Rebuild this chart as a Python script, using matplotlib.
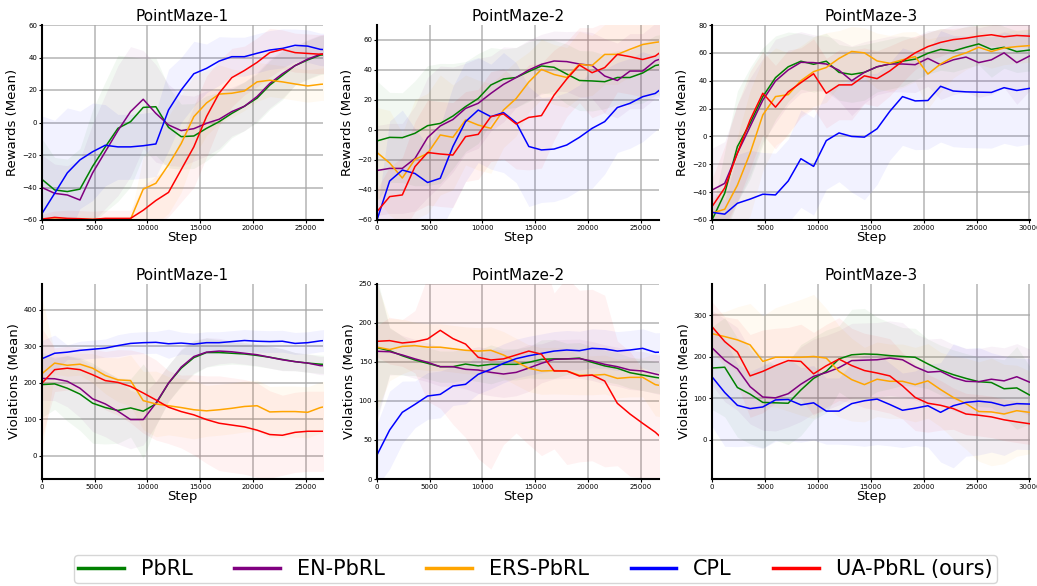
import numpy as np
import matplotlib
matplotlib.use("Agg")
import matplotlib.pyplot as plt
from matplotlib.lines import Line2D

# ---------------- data ----------------
methods = ["PbRL", "EN-PbRL", "ERS-PbRL", "CPL", "UA-PbRL (ours)"]
colors = ["green", "purple", "orange", "blue", "red"]
titles = ["PointMaze-1", "PointMaze-2", "PointMaze-3"]

steps_a = np.arange(0, 27601, 1200)   # PointMaze-1 / -2 (24 evals)
steps_b = np.arange(0, 30001, 1200)   # PointMaze-3 (26 evals)

# Rewards, PointMaze-1
r1_pbrl = [-35, -41.5, -42.5, -41, -27, -15, -3.6, 0.5, 9.3, 9.7, -3, -8.7, -8.3, -3.6, 0.5, 5.6, 10, 15, 23, 29, 35, 38.5, 41.5, 42]
r1_en = [-40, -43.6, -44.6, -47.7, -31, -18, -5, 6.7, 14.3, 5.6, -1.5, -5, -3.8, -0.5, 2, 6.7, 10, 16, 24, 30, 35, 39, 42, 43]
r1_ers = [-59.5, -59.5, -59.6, -59.6, -59.7, -59.6, -59.5, -59.5, -41, -37.4, -26, -13, 3.6, 12, 17.5, 18, 19.4, 25, 26, 25, 23.7, 22.5, 23.5, 24]
r1_cpl = [-56, -43.6, -31, -23, -18, -14, -15, -15, -14.3, -13.2, 7.7, 20, 30, 33.3, 37.8, 40.5, 40.5, 42.6, 44.6, 45.6, 47.5, 47, 45, 44.6]
r1_ua = [-59.4, -58.4, -59, -59.2, -59.6, -59, -59, -59, -54, -48, -43, -29, -15, 3.6, 18, 27.6, 32, 37, 43, 45, 43, 42.5, 42, 42.5]
r1_pbrl_sd = [25, 20, 20, 25, 35, 40, 45, 40, 30, 30, 25, 20, 20, 20, 18, 15, 15, 15, 15, 15, 12, 12, 12, 12]
r1_en_sd = [20, 18, 18, 25, 30, 35, 40, 40, 30, 30, 25, 22, 20, 20, 18, 15, 15, 15, 15, 15, 12, 12, 12, 12]
r1_ers_sd = [2, 2, 2, 2, 2, 2, 2, 2, 20, 25, 30, 30, 25, 20, 18, 15, 12, 12, 10, 10, 10, 10, 10, 10]
r1_cpl_sd = [60, 45, 40, 30, 30, 25, 20, 20, 20, 20, 25, 20, 20, 15, 15, 12, 12, 12, 12, 12, 10, 10, 10, 10]
r1_ua_sd = [3, 4, 5, 5, 5, 5, 5, 5, 15, 15, 15, 20, 25, 25, 20, 18, 15, 15, 15, 12, 12, 12, 12, 12]

# Rewards, PointMaze-2
r2_pbrl = [-7.3, -4.9, -5.1, -2.2, 2.9, 4.4, 9.3, 15.6, 21, 30, 34, 35, 39, 42.7, 41.8, 37.3, 33, 32.7, 32.2, 35, 35, 38, 43, 44.4]
r2_en = [-27, -25.6, -25.6, -19, -5, 2.7, 7, 14.4, 17.8, 24.4, 30.4, 35, 40, 43.8, 46, 45.6, 44, 43, 36, 33, 39.3, 39.3, 46.2, 49]
r2_ers = [-15, -22, -32, -19.6, -15.6, -3.3, -4.9, 6.7, 3.3, 1.1, 13.3, 21, 32, 40.4, 37, 35, 43.8, 43, 50.4, 50.4, 53.8, 57, 58.4, 59.5]
r2_cpl = [-60, -34, -26.7, -29, -35, -32.2, -11, 5.6, 13.3, 8.9, 11.6, 4.9, -11, -13.3, -12.7, -10, -4.9, 1.1, 5.6, 15, 17.8, 22.2, 24.4, 31]
r2_ua = [-54.4, -44.4, -43.3, -24.4, -15, -16, -16.7, -4.4, -2.9, 8.9, 10.7, 4, 8.4, 9.6, 23.3, 34, 43.3, 38.2, 41.6, 50.4, 48.9, 47, 49.3, 55.6]
r2_pbrl_sd = [40, 30, 30, 35, 40, 40, 35, 30, 30, 25, 20, 20, 20, 18, 18, 20, 20, 20, 18, 18, 18, 20, 20, 20]
r2_en_sd = [30, 30, 30, 35, 40, 40, 35, 30, 30, 25, 25, 20, 20, 20, 20, 20, 22, 22, 25, 25, 25, 25, 25, 25]
r2_ers_sd = [30, 35, 30, 40, 40, 40, 35, 30, 30, 30, 25, 25, 20, 20, 20, 20, 22, 20, 20, 20, 18, 18, 18, 18]
r2_cpl_sd = [5, 40, 40, 30, 25, 35, 40, 40, 35, 35, 40, 40, 40, 35, 35, 35, 35, 40, 35, 30, 30, 30, 25, 25]
r2_ua_sd = [15, 20, 25, 30, 35, 35, 35, 30, 30, 30, 30, 30, 35, 35, 30, 25, 25, 30, 30, 25, 25, 25, 25, 25]

# Rewards, PointMaze-3
r3_pbrl = [-60, -40.8, -7.3, 9.4, 28.6, 42.2, 50, 54, 51.8, 54, 46, 44.5, 46, 50, 52, 54, 55.5, 59.7, 62.5, 61.3, 64, 66.4, 62.5, 64, 60.9, 62]
r3_en = [-38.5, -33.7, -12, 7, 26, 39.8, 47.7, 53.2, 53, 52, 47.5, 40, 46, 50, 52, 52, 51.5, 56, 51.5, 55, 57, 53, 55, 60, 53, 57.7]
r3_ers = [-55, -52.3, -35, -12, 15.4, 28.6, 30, 40, 46.5, 49.5, 56, 61, 60, 54.2, 52.5, 55, 57.3, 44.8, 52, 57, 60, 64, 61, 63.5, 64.5, 65.2]
r3_cpl = [-54.5, -55.8, -48, -45, -41.5, -42, -32, -16, -21.5, -3, 2.5, 0, -0.5, 5.5, 18, 28.6, 25.5, 25.8, 36, 32.6, 32, 31.8, 31.6, 35, 33, 34.5]
r3_ua = [-50.4, -37, -12, 11.8, 31, 21, 32, 38.6, 45, 31, 37, 37, 43.5, 41.5, 47, 54, 60, 64.5, 67.5, 69.5, 70.5, 72, 73, 71.5, 72.5, 72]
r3_pbrl_sd = [5, 30, 40, 40, 35, 30, 25, 20, 20, 20, 20, 20, 20, 18, 18, 18, 15, 15, 15, 15, 15, 15, 20, 15, 15, 15]
r3_en_sd = [30, 30, 35, 35, 30, 30, 25, 22, 20, 20, 22, 25, 22, 20, 20, 20, 20, 20, 25, 25, 25, 25, 25, 25, 30, 25]
r3_ers_sd = [10, 15, 35, 45, 40, 35, 30, 25, 25, 25, 20, 18, 18, 20, 20, 20, 18, 25, 20, 15, 12, 12, 12, 12, 12, 12]
r3_cpl_sd = [15, 10, 35, 35, 30, 30, 30, 35, 35, 35, 35, 40, 45, 40, 35, 35, 35, 35, 40, 40, 40, 40, 40, 40, 40, 40]
r3_ua_sd = [20, 30, 35, 35, 30, 30, 30, 25, 25, 25, 25, 25, 20, 20, 18, 15, 12, 10, 10, 8, 8, 8, 8, 8, 8, 8]

# Violations, PointMaze-1
v1_pbrl = [195, 197, 185, 169, 144, 132, 124, 131, 122, 142, 199, 240, 269, 283, 283, 281, 279, 275, 270, 264, 258, 254, 251, 249]
v1_en = [212, 211, 204, 185, 156, 142, 122, 99, 99, 144, 199, 243, 272, 284, 287, 285, 281, 277, 270, 263, 258, 254, 247, 247]
v1_ers = [225, 254, 248, 251, 240, 220, 208, 206, 151, 142, 137, 132, 126, 123, 126, 130, 135, 137, 120, 121, 121, 119, 132, 139]
v1_cpl = [266, 281, 284, 289, 292, 295, 302, 308, 310, 311, 307, 309, 306, 310, 310, 313, 316, 314, 313, 314, 308, 310, 315, 318]
v1_ua = [199, 236, 240, 236, 222, 206, 201, 190, 172, 153, 133, 121, 112, 99, 89, 84, 79, 70, 58, 56, 64, 67, 67, 67]
v1_pbrl_sd = [90, 70, 90, 100, 110, 100, 90, 80, 130, 60, 50, 50, 45, 40, 35, 30, 30, 30, 30, 30, 25, 25, 25, 25]
v1_en_sd = [60, 60, 70, 80, 90, 90, 90, 80, 70, 60, 50, 50, 45, 40, 35, 30, 30, 30, 30, 30, 25, 25, 25, 25]
v1_ers_sd = [210, 30, 30, 30, 40, 50, 60, 70, 80, 90, 80, 80, 80, 70, 70, 70, 70, 70, 70, 70, 70, 70, 70, 70]
v1_cpl_sd = [50, 50, 20, 25, 25, 25, 30, 30, 30, 30, 40, 30, 30, 30, 30, 30, 30, 30, 30, 30, 30, 30, 30, 30]
v1_ua_sd = [150, 60, 60, 60, 70, 80, 90, 100, 110, 110, 100, 100, 110, 120, 130, 130, 130, 130, 120, 110, 110, 110, 110, 110]

# Violations, PointMaze-2
v2_pbrl = [168.4, 164.5, 158, 152.6, 148.3, 144, 144, 147.4, 145, 147, 147, 147, 149.6, 153.4, 154, 154, 155, 149.6, 145, 142, 136.3, 133.3, 130.3, 128]
v2_en = [163.7, 163.2, 159, 154, 149.6, 144, 144, 140.6, 139.7, 136.7, 134.6, 136.7, 142.3, 148.3, 153.4, 154, 154.3, 151.3, 147, 144, 139.7, 138.5, 134.6, 131]
v2_ers = [169, 166, 170, 171, 169, 169, 167, 165, 164, 165, 159, 150.4, 142, 138.5, 139, 138.5, 133, 133, 134, 129, 130.3, 130.3, 121, 118]
v2_cpl = [30.8, 62.8, 85.5, 95.7, 106.4, 108.5, 119.2, 121.4, 134.2, 140.6, 148.3, 154.3, 158, 161, 164, 165.4, 164.5, 167.5, 166.7, 164, 165.4, 167.5, 162.4, 163]
v2_ua = [176.5, 177.4, 174.4, 176, 179.5, 190.6, 180, 173, 156, 152.6, 154, 159, 164, 160, 138.5, 138.5, 132, 133.3, 125.6, 97, 83.3, 71.4, 60, 45]
v2_pbrl_sd = [90, 30, 25, 20, 20, 20, 20, 20, 20, 25, 20, 20, 20, 25, 25, 20, 20, 20, 20, 20, 20, 20, 20, 20]
v2_en_sd = [90, 30, 25, 25, 25, 25, 25, 25, 30, 30, 30, 30, 30, 25, 25, 25, 25, 25, 25, 25, 25, 25, 25, 25]
v2_ers_sd = [80, 40, 35, 30, 30, 30, 30, 30, 30, 30, 30, 30, 30, 30, 30, 30, 25, 25, 25, 25, 25, 25, 40, 40]
v2_cpl_sd = [40, 50, 40, 30, 30, 30, 25, 25, 25, 25, 25, 25, 25, 25, 25, 25, 25, 25, 25, 25, 25, 25, 25, 25]
v2_ua_sd = [20, 30, 30, 40, 80, 100, 110, 120, 130, 140, 110, 100, 120, 130, 100, 120, 110, 110, 110, 80, 80, 70, 70, 70]

# Violations, PointMaze-3
v3_pbrl = [173, 175, 126, 110, 90, 89, 88, 120, 148, 165, 195, 205, 207, 206, 203, 201, 199, 183, 168, 157, 148, 140, 138, 123, 125, 108]
v3_en = [222, 192, 171, 128, 103, 101, 111, 134, 153, 162, 174, 191, 192, 193, 197, 193, 176, 163, 165, 150, 141, 140, 146, 142, 152, 139]
v3_ers = [256, 249, 241, 229, 189, 199, 199, 199, 201, 197, 165, 145, 133, 146, 141, 141, 133, 142, 121, 102, 87, 68, 67, 62, 70, 66]
v3_cpl = [152, 114, 83, 75, 79, 96, 97, 84, 89, 69, 69, 87, 94, 98, 85, 71, 76, 82, 66, 82, 90, 93, 90, 82, 87, 86]
v3_ua = [273, 237, 211.5, 154, 165, 179, 191, 189, 159, 178.5, 194.6, 179, 167, 161, 154, 130, 102, 88, 83, 75, 62, 59, 55, 48, 43, 38.5]
v3_pbrl_sd = [100, 120, 120, 120, 110, 90, 100, 110, 100, 100, 80, 110, 110, 90, 80, 70, 70, 60, 60, 60, 60, 60, 60, 70, 100, 70]
v3_en_sd = [90, 100, 100, 90, 80, 80, 80, 90, 90, 90, 90, 90, 90, 90, 90, 90, 80, 80, 80, 80, 80, 80, 80, 80, 80, 80]
v3_ers_sd = [50, 60, 80, 100, 110, 120, 130, 140, 150, 120, 110, 100, 90, 90, 90, 90, 90, 90, 90, 100, 110, 120, 130, 120, 110, 100]
v3_cpl_sd = [120, 130, 100, 90, 100, 100, 100, 90, 90, 80, 80, 100, 110, 110, 100, 90, 90, 100, 120, 150, 130, 130, 120, 120, 110, 110]
v3_ua_sd = [60, 60, 80, 100, 100, 90, 80, 90, 100, 100, 100, 90, 90, 90, 90, 80, 80, 70, 60, 50, 50, 50, 50, 50, 50, 50]

rewards = [
    [r1_pbrl, r1_en, r1_ers, r1_cpl, r1_ua],
    [r2_pbrl, r2_en, r2_ers, r2_cpl, r2_ua],
    [r3_pbrl, r3_en, r3_ers, r3_cpl, r3_ua],
]
rewards_sd = [
    [r1_pbrl_sd, r1_en_sd, r1_ers_sd, r1_cpl_sd, r1_ua_sd],
    [r2_pbrl_sd, r2_en_sd, r2_ers_sd, r2_cpl_sd, r2_ua_sd],
    [r3_pbrl_sd, r3_en_sd, r3_ers_sd, r3_cpl_sd, r3_ua_sd],
]
violations = [
    [v1_pbrl, v1_en, v1_ers, v1_cpl, v1_ua],
    [v2_pbrl, v2_en, v2_ers, v2_cpl, v2_ua],
    [v3_pbrl, v3_en, v3_ers, v3_cpl, v3_ua],
]
violations_sd = [
    [v1_pbrl_sd, v1_en_sd, v1_ers_sd, v1_cpl_sd, v1_ua_sd],
    [v2_pbrl_sd, v2_en_sd, v2_ers_sd, v2_cpl_sd, v2_ua_sd],
    [v3_pbrl_sd, v3_en_sd, v3_ers_sd, v3_cpl_sd, v3_ua_sd],
]
steps = [steps_a, steps_a, steps_b]

# ---------------- layout ----------------
W, H = 1037, 586
fig = plt.figure(figsize=(W / 100, H / 100), dpi=100)

col_px = [(42, 323), (377, 659), (712, 1030)]
row_px = [(25, 220), (284, 479)]
xlims = [26650, 26750, 30050]
ylims_r = [(-60, 60), (-60, 70), (-60, 80)]
ylims_v = [(-64, 471), (0, 250), (-95, 376)]
yticks_r = [np.arange(-60, 61, 20), np.arange(-60, 61, 20), np.arange(-60, 81, 20)]
yticks_v = [np.arange(0, 401, 100), np.arange(0, 251, 50), np.arange(0, 301, 100)]


def style(ax, xmax, xt_max):
    for s in ["top", "right"]:
        ax.spines[s].set_visible(False)
    for s in ["left", "bottom"]:
        ax.spines[s].set_linewidth(1.5)
        ax.spines[s].set_color("black")
    ax.set_xlim(0, xmax)
    ax.set_xticks(np.arange(0, xt_max + 1, 5000))
    ax.tick_params(axis="both", labelsize=5, length=2, width=0.8, pad=1.5)
    ax.grid(True, color="#a8a8a8", linewidth=1.2, alpha=0.8)
    ax.set_axisbelow(True)
    ax.set_xlabel("Step", fontsize=9.5, labelpad=0)


for row in range(2):
    for col in range(3):
        l, r = col_px[col]
        t, b = row_px[row]
        ax = fig.add_axes([l / W, 1 - b / H, (r - l) / W, (b - t) / H])
        data = rewards[col] if row == 0 else violations[col]
        sds = rewards_sd[col] if row == 0 else violations_sd[col]
        x = steps[col]
        for m, c, d, sd in zip(methods, colors, data, sds):
            d = np.asarray(d, float)
            sd = np.asarray(sd, float)
            ax.fill_between(x, d - sd, d + sd, color=c, alpha=0.05, linewidth=0)
        for m, c, d in zip(methods, colors, data):
            ax.plot(x, d, color=c, linewidth=1.1, label=m)
        style(ax, xlims[col], 30000 if col == 2 else 25000)
        if row == 0:
            ax.set_ylim(*ylims_r[col])
            ax.set_yticks(yticks_r[col])
            ax.set_ylabel("Rewards (Mean)", fontsize=9.5, labelpad=2)
        else:
            ax.set_ylim(*ylims_v[col])
            ax.set_yticks(yticks_v[col])
            ax.set_ylabel("Violations (Mean)", fontsize=9.5, labelpad=2)
        ax.set_title(titles[col], fontsize=11, pad=3)

handles = [Line2D([0], [0], color=c, linewidth=2.5) for c in colors]
leg = fig.legend(handles, methods, loc="center", bbox_to_anchor=(535.5 / W, 1 - 569 / H),
                 ncol=5, frameon=True, fancybox=True, fontsize=15, handlelength=2.2,
                 columnspacing=2.0, handletextpad=0.8, borderpad=0.2)
leg.get_frame().set_edgecolor("#cccccc")
leg.get_frame().set_linewidth(1.0)

fig.savefig("out.png", dpi=100)
